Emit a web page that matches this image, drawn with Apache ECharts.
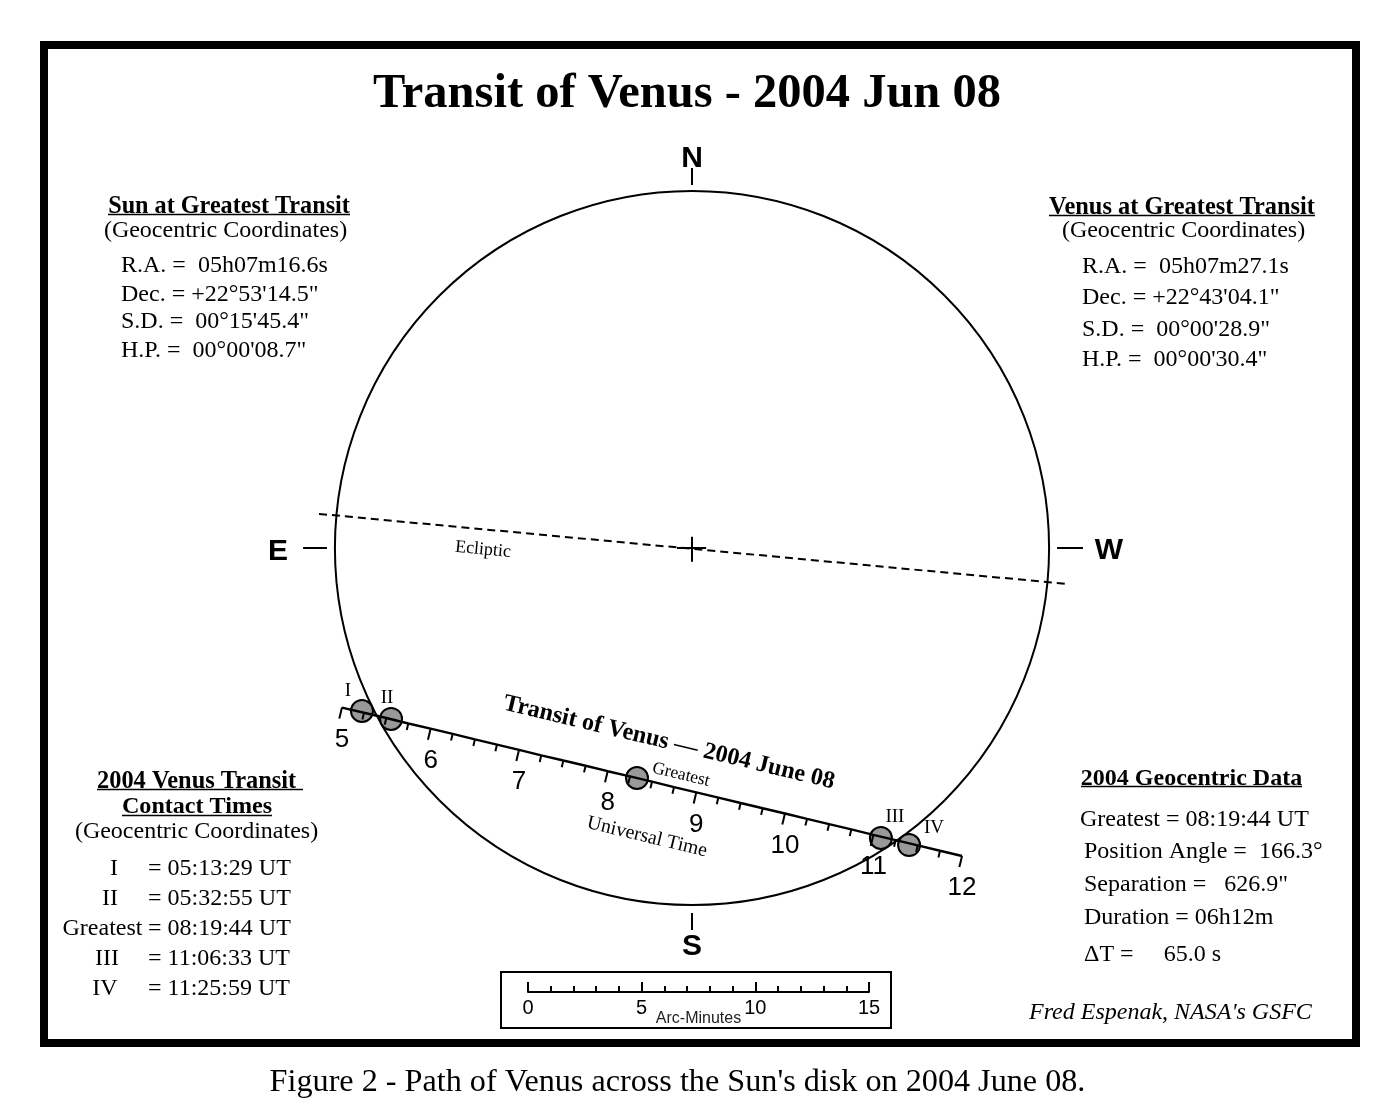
<!DOCTYPE html>
<html>
<head>
<meta charset="utf-8">
<title>Transit of Venus - 2004 Jun 08</title>
<style>
    html, body { margin: 0; padding: 0; background: #fff; }
    #chart { width: 1400px; height: 1120px; }
</style>
<script src="https://cdn.jsdelivr.net/npm/echarts@6/dist/echarts.min.js"></script>
</head>
<body>
<div id="chart"></div>
<script>
// All positions in arc-minutes from the Sun's centre (x towards W, y towards N)
const sunRadius = 15.71;

// Path of Venus, one point per 15 minutes from 05:00 to 12:00 UT
const pathX = [-15.40, -14.43, -13.45, -12.48, -11.50, -10.53, -9.55, -8.58, -7.61, -6.63, -5.66, -4.68, -3.71, -2.73, -1.76, -0.79, 0.19, 1.16, 2.14, 3.11, 4.09, 5.06, 6.03, 7.01, 7.98, 8.96, 9.93, 10.91, 11.88];
const pathY = [-7.02, -7.25, -7.48, -7.72, -7.95, -8.18, -8.42, -8.65, -8.88, -9.12, -9.35, -9.58, -9.82, -10.05, -10.28, -10.52, -10.75, -10.98, -11.22, -11.45, -11.68, -11.92, -12.15, -12.38, -12.62, -12.85, -13.08, -13.32, -13.55];
const hourLabels = ['5', '6', '7', '8', '9', '10', '11', '12'];

// Venus at the contacts and at greatest transit
const contactNames = ['I', 'II', '', 'III', 'IV'];
const contactX = [-14.52, -13.24, -2.42, 8.31, 9.55];
const contactY = [-7.17, -7.52, -10.12, -12.76, -13.07];

const eclipticX = [-16.41, 16.50];
const eclipticY = [1.50, -1.58];

// Cross at the centre, then N, S, E, W marks: [x1, y1, x2, y2]
const crossLines = [[-0.66, 0, 0.62, 0], [0, 0.5, 0, -0.6]];
const compassLines = [[0, 16.72, 0, 15.97], [0, -16.06, 0, -16.81], [-17.11, 0, -16.06, 0], [16.06, 0, 17.20, 0]];
const compassNames = ['N', 'S', 'E', 'W'];

const scaleLabels = ['0', '5', '10', '15'];

const titleText = 'Transit of Venus - 2004 Jun 08';
const captionText = "Figure 2 - Path of Venus across the Sun's disk on 2004 June 08.";
const creditText = "Fred Espenak, NASA's GSFC";
const bannerText = 'Transit of Venus \u2014 2004 June 08';
const coordsText = '(Geocentric Coordinates)';

const sunHeading = 'Sun at Greatest Transit';
const sunRows = ['R.A. =  05h07m16.6s', 'Dec. = +22\u00b053\'14.5"', 'S.D. =  00\u00b015\'45.4"', 'H.P. =  00\u00b000\'08.7"'];
const venusHeading = 'Venus at Greatest Transit';
const venusRows = ['R.A. =  05h07m27.1s', 'Dec. = +22\u00b043\'04.1"', 'S.D. =  00\u00b000\'28.9"', 'H.P. =  00\u00b000\'30.4"'];
const contactHeading = ['2004 Venus Transit', 'Contact Times'];
const contactRowNames = ['I', 'II', 'Greatest', 'III', 'IV'];
const contactRowTimes = ['= 05:13:29 UT', '= 05:32:55 UT', '= 08:19:44 UT', '= 11:06:33 UT', '= 11:25:59 UT'];
const dataHeading = '2004 Geocentric Data';
const dataRows = ['Greatest = 08:19:44 UT', 'Position Angle =  166.3\u00b0', 'Separation =   626.9"', 'Duration = 06h12m', '\u0394T =     65.0 s'];

const SERIF = '"Liberation Serif", "Times New Roman", serif';
const SANS = '"Liberation Sans", Arial, sans-serif';

// Pixel frame of the main plot: 22.73 px per arc-minute, Sun centre at (692, 548)
const PX = 22.73;
const CX = 692;
const CY = 548;

function txt(str, x, baseline, size, opts) {
    opts = opts || {};
    const family = opts.family || SERIF;
    const font = (opts.italic ? 'italic ' : '') + (opts.bold ? 'bold ' : '') + size + 'px ' + family;
    return {
        type: 'text',
        x: x,
        y: baseline - size * 0.3,
        rotation: opts.rot ? opts.rot * Math.PI / 180 : 0,
        silent: true,
        style: {
            text: str,
            x: 0,
            y: 0,
            font: font,
            fill: opts.color || '#000',
            align: opts.align || 'left',
            verticalAlign: 'middle'
        }
    };
}

function underline(x1, x2, y) {
    return {
        type: 'line',
        silent: true,
        shape: { x1: x1, y1: y, x2: x2, y2: y },
        style: { stroke: '#000', lineWidth: 1.6 }
    };
}

function buildGraphics() {
    const g = [];
    // outer frame and scale box
    g.push({ type: 'rect', silent: true, shape: { x: 44, y: 45, width: 1312, height: 998 }, style: { fill: 'none', stroke: '#000', lineWidth: 8 } });
    g.push({ type: 'rect', silent: true, shape: { x: 501, y: 972, width: 390, height: 56 }, style: { fill: 'none', stroke: '#000', lineWidth: 2 } });

    g.push(txt(titleText, 687, 109, 48.5, { bold: true, align: 'center' }));
    g.push(txt(captionText, 677.5, 1092, 32.2, { align: 'center' }));
    g.push(txt(creditText, 1029, 1020, 24, { italic: true }));

    // Sun block
    g.push(txt(sunHeading, 229, 214, 24.2, { bold: true, align: 'center' }));
    g.push(underline(108, 350, 214.5));
    g.push(txt(coordsText, 225.5, 238, 24, { align: 'center' }));
    [273, 302, 329, 358].forEach(function (y, i) {
        g.push(txt(sunRows[i], 121, y, 24));
    });

    // Venus block
    g.push(txt(venusHeading, 1182, 215, 24.4, { bold: true, align: 'center' }));
    g.push(underline(1049, 1315, 215.5));
    g.push(txt(coordsText, 1183.5, 238, 24, { align: 'center' }));
    [274, 305, 337, 367].forEach(function (y, i) {
        g.push(txt(venusRows[i], 1082, y, 24));
    });

    // Contact times block
    g.push(txt(contactHeading[0], 97, 789, 24.4, { bold: true }));
    g.push(underline(97, 303, 789.5));
    g.push(txt(contactHeading[1], 197, 814, 24.1, { bold: true, align: 'center' }));
    g.push(underline(122, 272, 815.5));
    g.push(txt(coordsText, 196.5, 839, 24, { align: 'center' }));
    const nameCentres = [114, 110, 102.5, 107, 105];
    [876, 906, 936, 966, 996].forEach(function (y, i) {
        g.push(txt(contactRowNames[i], nameCentres[i], y, 24, { align: 'center' }));
        g.push(txt(contactRowTimes[i], 148, y, 24));
    });

    // Geocentric data block
    g.push(txt(dataHeading, 1191.5, 786, 24, { bold: true, align: 'center' }));
    g.push(underline(1081, 1302, 786.5));
    const dataXs = [1080, 1084, 1084, 1084, 1084];
    [827, 859, 892, 925, 962].forEach(function (y, i) {
        g.push(txt(dataRows[i], dataXs[i], y, 24));
    });

    // Slanted notes on the plot
    g.push(txt(bannerText, 669, 750, 24.2, { bold: true, align: 'center', rot: -13.5 }));
    g.push(txt('Greatest', 681, 780, 17.5, { align: 'center', rot: -13.5 }));
    g.push(txt('Universal Time', 647, 843, 19.8, { align: 'center', rot: -13.5 }));
    g.push(txt('Ecliptic', 483, 555, 18, { align: 'center', rot: -5.4 }));
    return g;
}

function renderSun(params, api) {
    const c = api.coord([api.value(0), api.value(1)]);
    const r = api.size([api.value(2), 0])[0];
    return {
        type: 'circle',
        shape: { cx: c[0], cy: c[1], r: r },
        style: { fill: 'none', stroke: '#000', lineWidth: 2 }
    };
}

function renderSegment(params, api) {
    const a = api.coord([api.value(0), api.value(1)]);
    const b = api.coord([api.value(2), api.value(3)]);
    return {
        type: 'line',
        shape: { x1: a[0], y1: a[1], x2: b[0], y2: b[1] },
        style: { stroke: '#000', lineWidth: 2 }
    };
}

// Ticks hang off the path at right angles: long on the hour, short on the quarter
function renderTick(params, api) {
    const p = api.coord([api.value(0), api.value(1)]);
    const len = api.size([api.value(2), 0])[0];
    const n = pathX.length - 1;
    const dx = pathX[n] - pathX[0];
    const dy = pathY[n] - pathY[0];
    const d = Math.sqrt(dx * dx + dy * dy);
    return {
        type: 'line',
        shape: { x1: p[0], y1: p[1], x2: p[0] + len * dy / d, y2: p[1] + len * dx / d },
        style: { stroke: '#000', lineWidth: 2 }
    };
}

function renderChart() {
    const chart = echarts.init(document.getElementById('chart'), null, { renderer: 'canvas' });

    const tickData = pathX.map(function (x, i) {
        return [x, pathY[i], i % 4 === 0 ? 0.5 : 0.3];
    });
    const hourData = hourLabels.map(function (h, i) {
        return { value: [pathX[i * 4], pathY[i * 4]], name: h };
    });
    const contactOffsets = [[-14, -20], [-4, -21], [0, 0], [14, -21], [25, -17]];
    const contactData = contactX.map(function (x, i) {
        return {
            value: [x, contactY[i]],
            label: {
                show: contactNames[i] !== '',
                formatter: contactNames[i],
                position: 'inside',
                offset: contactOffsets[i],
                fontFamily: SERIF,
                fontSize: 19,
                color: '#000'
            }
        };
    });
    // N, S, E, W letters placed out from their marks
    const compassOffsets = [[0, -9], [0, 17], [-25, 4], [26, 3]];
    const compassData = compassNames.map(function (name, i) {
        const m = compassLines[i];
        return {
            value: [i === 3 ? m[2] : m[0], i === 1 ? m[3] : m[1]],
            label: {
                show: true,
                formatter: name,
                position: 'inside',
                offset: compassOffsets[i],
                fontFamily: SANS,
                fontWeight: 'bold',
                fontSize: 30,
                color: '#000'
            }
        };
    });

    const option = {
        animation: false,
        backgroundColor: '#fff',
        tooltip: { show: false },
        grid: [
            { left: 0, right: 0, top: 0, bottom: 0, containLabel: false },
            { left: 528, width: 341, top: 981, height: 11, containLabel: false }
        ],
        xAxis: [
            { type: 'value', gridIndex: 0, show: false, min: -CX / PX, max: (1400 - CX) / PX },
            {
                type: 'value',
                gridIndex: 1,
                min: 0,
                max: 15,
                interval: 5,
                position: 'bottom',
                name: 'Arc-Minutes',
                nameLocation: 'middle',
                nameGap: 27,
                nameMoveOverlap: false,
                nameTextStyle: { fontFamily: SANS, fontSize: 16, color: '#222', verticalAlign: 'middle' },
                axisLine: { show: true, onZero: false, lineStyle: { color: '#000', width: 2 } },
                axisTick: { show: true, inside: true, length: 10, lineStyle: { color: '#000', width: 2 } },
                minorTick: { show: true, splitNumber: 5, length: 6, lineStyle: { color: '#000', width: 2 } },
                splitLine: { show: false },
                axisLabel: {
                    show: true,
                    margin: 6,
                    showMinLabel: true,
                    showMaxLabel: true,
                    fontFamily: SANS,
                    fontSize: 20,
                    color: '#000',
                    formatter: function (v) {
                        return scaleLabels[v / 5];
                    }
                }
            }
        ],
        yAxis: [
            { type: 'value', gridIndex: 0, show: false, min: (CY - 1120) / PX, max: CY / PX },
            { type: 'value', gridIndex: 1, show: false, min: 0, max: 1 }
        ],
        graphic: buildGraphics(),
        series: [
            {
                name: 'Sun',
                type: 'custom',
                silent: true,
                renderItem: renderSun,
                data: [[0, 0, sunRadius]]
            },
            {
                name: 'Ecliptic',
                type: 'line',
                silent: true,
                symbol: 'none',
                lineStyle: { color: '#000', width: 2, type: [8, 5] },
                data: eclipticX.map(function (x, i) { return [x, eclipticY[i]]; })
            },
            {
                name: 'Marks',
                type: 'custom',
                silent: true,
                renderItem: renderSegment,
                data: crossLines.concat(compassLines)
            },
            {
                name: 'Compass',
                type: 'scatter',
                silent: true,
                symbolSize: 0,
                itemStyle: { opacity: 1 },
                data: compassData
            },
            {
                name: 'Venus',
                type: 'scatter',
                silent: true,
                symbolSize: 22,
                itemStyle: { color: '#999', borderColor: '#000', borderWidth: 2, opacity: 1 },
                data: contactData
            },
            {
                name: 'Path',
                type: 'line',
                silent: true,
                symbol: 'none',
                z: 3,
                lineStyle: { color: '#000', width: 2.4 },
                data: pathX.map(function (x, i) { return [x, pathY[i]]; })
            },
            {
                name: 'Ticks',
                type: 'custom',
                silent: true,
                z: 3,
                renderItem: renderTick,
                data: tickData
            },
            {
                name: 'Hours',
                type: 'scatter',
                silent: true,
                symbolSize: 0,
                itemStyle: { opacity: 1 },
                label: {
                    show: true,
                    position: 'inside',
                    offset: [0, 32],
                    fontFamily: SANS,
                    fontSize: 26,
                    color: '#000',
                    formatter: function (p) { return p.name; }
                },
                data: hourData
            }
        ]
    };

    chart.setOption(option);
}

renderChart();
</script>
</body>
</html>
